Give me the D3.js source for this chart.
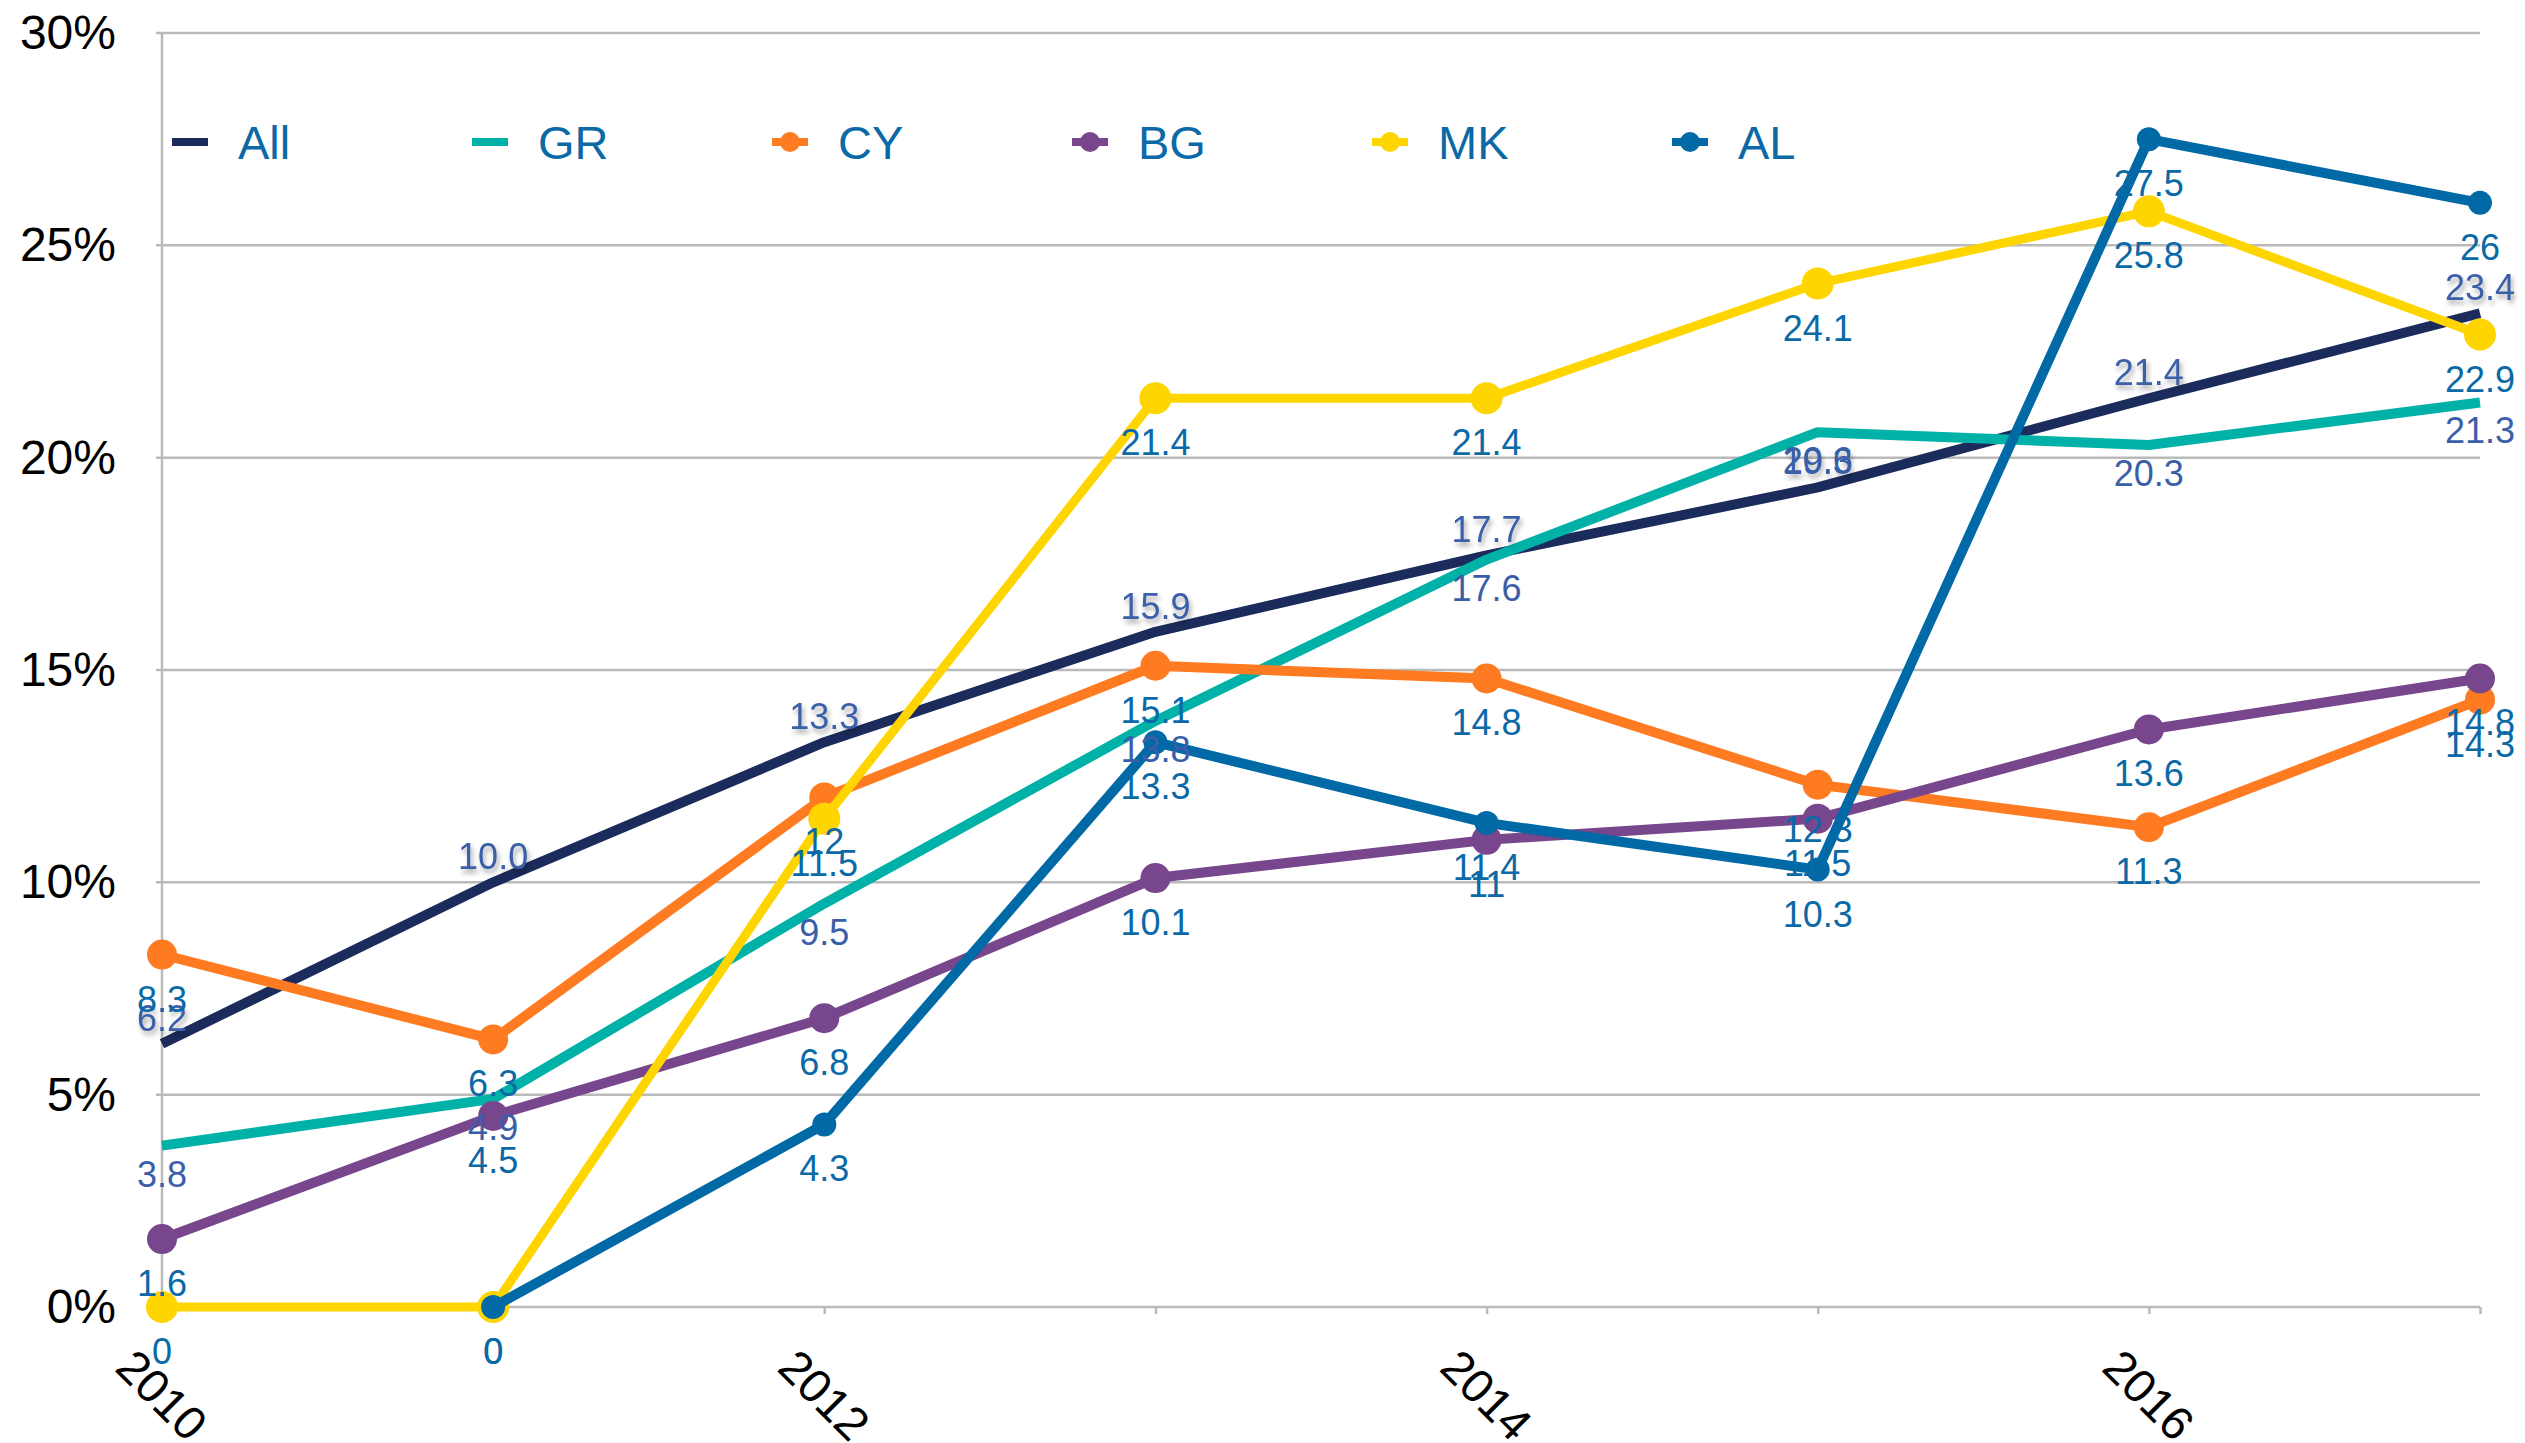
<!DOCTYPE html>
<html>
<head>
<meta charset="utf-8">
<script src="https://cdn.jsdelivr.net/npm/d3@7"></script>
<style>
  body { margin: 0; background: #fff; }
  text { font-family: "Liberation Sans", Arial, Helvetica, sans-serif; }
</style>
</head>
<body>
<div id="chart"></div>
<script>
// datos
var years = [2010, 2011, 2012, 2013, 2014, 2015, 2016, 2017];
var yearTicks = [2010, 2012, 2014, 2016];
var pctTicks = [0, 5, 10, 15, 20, 25, 30];
var seriesNames = ["All", "GR", "CY", "BG", "MK", "AL"];

var allValues = [6.2, 10.0, 13.3, 15.9, 17.7, 19.3, 21.4, 23.4];
var grValues  = [3.8, 4.9, 9.5, 13.8, 17.6, 20.6, 20.3, 21.3];
var cyValues  = [8.3, 6.3, 12, 15.1, 14.8, 12.3, 11.3, 14.3];
var bgValues  = [1.6, 4.5, 6.8, 10.1, 11, 11.5, 13.6, 14.8];
var mkValues  = [0, 0, 11.5, 21.4, 21.4, 24.1, 25.8, 22.9];
var alValues  = [null, 0, 4.3, 13.3, 11.4, 10.3, 27.5, 26];

var W = 2525, H = 1443;
var margin = {top: 33, right: 45, bottom: 136, left: 162};

var series = [
  {name: "All", values: allValues, color: "#1b2b5b", marker: 0,  label: "#3a5ea8", pos: "above", shadow: true},
  {name: "GR",  values: grValues,  color: "#00b1a8", marker: 0,  label: "#3a5ea8", pos: "belowLine"},
  {name: "CY",  values: cyValues,  color: "#fe7b21", marker: 15, label: "#0a69a6", pos: "below"},
  {name: "BG",  values: bgValues,  color: "#78468d", marker: 15, label: "#0a69a6", pos: "below"},
  {name: "MK",  values: mkValues,  color: "#ffd500", marker: 16, label: "#0a69a6", pos: "below"},
  {name: "AL",  values: alValues,  color: "#0069a6", marker: 12, label: "#0a69a6", pos: "below"}
];

var svg = d3.select("#chart").append("svg")
    .attr("width", W)
    .attr("height", H);

var defs = svg.append("defs");
var f = defs.append("filter").attr("id", "sombra")
    .attr("x", "-20%").attr("y", "-20%").attr("width", "150%").attr("height", "160%");
f.append("feDropShadow").attr("dx", 2).attr("dy", 4).attr("stdDeviation", 2.5)
    .attr("flood-color", "#000").attr("flood-opacity", 0.35);

var x = d3.scaleLinear().domain([2010, 2017]).range([margin.left, W - margin.right]);
var y = d3.scaleLinear().domain([0, 30]).range([H - margin.bottom, margin.top]);

// rejilla
svg.append("g").selectAll("line").data(pctTicks).enter().append("line")
    .attr("x1", margin.left - 6).attr("x2", x(2017))
    .attr("y1", function(d) { return y(d); }).attr("y2", function(d) { return y(d); })
    .attr("stroke", "#bababa").attr("stroke-width", 2.5);

svg.append("line")
    .attr("x1", margin.left).attr("x2", margin.left)
    .attr("y1", y(30)).attr("y2", y(0))
    .attr("stroke", "#bababa").attr("stroke-width", 2.5);

// eje y
var yAxis = svg.append("g")
    .attr("transform", "translate(" + margin.left + ",0)")
    .call(d3.axisLeft(y).tickValues(pctTicks).tickSize(0).tickPadding(46)
      .tickFormat(function(d) { return d + "%"; }));
yAxis.select(".domain").remove();
yAxis.selectAll("text").attr("font-size", 48).attr("fill", "#000")
    .style("font-family", "'Liberation Sans', Arial, sans-serif");

// eje x
var xAxis = svg.append("g")
    .attr("transform", "translate(0," + y(0) + ")")
    .call(d3.axisBottom(x).tickValues(years).tickSize(7).tickFormat(""));
xAxis.select(".domain").remove();
xAxis.selectAll("line").attr("stroke", "#bababa").attr("stroke-width", 2.5);

svg.append("g").selectAll("text").data(yearTicks).enter().append("text")
    .attr("transform", function(d) { return "translate(" + x(d) + "," + (y(0) + 88) + ") rotate(45)"; })
    .attr("text-anchor", "middle")
    .attr("dy", "0.35em")
    .attr("font-size", 47)
    .attr("fill", "#000")
    .text(function(d) { return d; });

// lineas
var line = d3.line()
    .defined(function(d) { return d.v !== null; })
    .x(function(d) { return x(d.year); })
    .y(function(d) { return y(d.v); });

series.forEach(function(s) {
  s.points = years.map(function(yr, i) { return {year: yr, v: s.values[i]}; });
});

var layer = svg.append("g");
series.forEach(function(s) {
  var g = layer.append("g");
  g.append("path")
      .datum(s.points)
      .attr("d", line)
      .attr("fill", "none")
      .attr("stroke", s.color)
      .attr("stroke-width", s.name === "MK" ? 9 : 10)
      .attr("stroke-linejoin", "round");
  if (s.marker > 0) {
    g.selectAll("circle").data(s.points.filter(function(d) { return d.v !== null; }))
      .enter().append("circle")
        .attr("cx", function(d) { return x(d.year); })
        .attr("cy", function(d) { return y(d.v); })
        .attr("r", s.marker)
        .attr("fill", s.color);
  }
});

// etiquetas
var labels = svg.append("g");
series.forEach(function(s) {
  var off = s.pos === "above" ? -13 : (s.pos === "belowLine" ? 41 : 57);
  labels.append("g")
      .attr("filter", s.shadow ? "url(#sombra)" : null)
    .selectAll("text").data(s.points.filter(function(d) { return d.v !== null; }))
    .enter().append("text")
      .attr("x", function(d) { return x(d.year); })
      .attr("y", function(d) { return y(d.v) + off; })
      .attr("text-anchor", "middle")
      .attr("font-size", 36)
      .attr("fill", s.label)
      .text(function(d) { return s.name === "All" ? d3.format(".1f")(d.v) : d.v; });
});

// leyenda
var lx = d3.scalePoint().domain(seriesNames).range([190, 1690]);
var legend = svg.append("g").selectAll("g").data(series).enter().append("g")
    .attr("transform", function(d) { return "translate(" + lx(d.name) + ",142)"; });
legend.append("line")
    .attr("x1", -18).attr("x2", 18)
    .attr("stroke", function(d) { return d.color; })
    .attr("stroke-width", 8);
legend.filter(function(d) { return d.marker > 0; }).append("circle")
    .attr("r", 10)
    .attr("fill", function(d) { return d.color; });
legend.append("text")
    .attr("x", 48)
    .attr("dy", "0.36em")
    .attr("font-size", 47)
    .attr("fill", "#0a69a6")
    .text(function(d) { return d.name; });
</script>
</body>
</html>
